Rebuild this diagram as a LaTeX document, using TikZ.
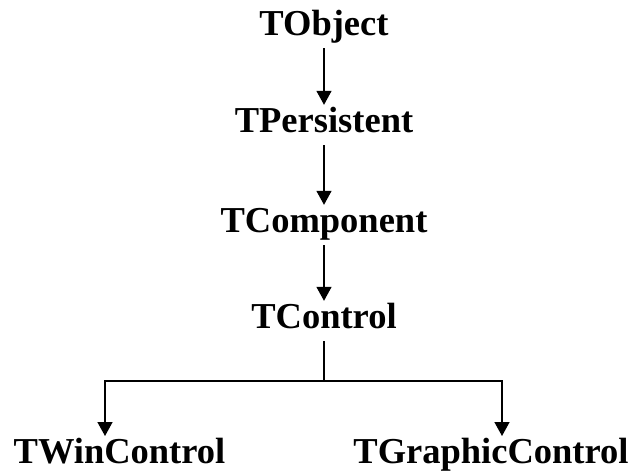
\documentclass[tikz,border=0pt]{standalone}
\usepackage{fontspec}
\setmainfont{Liberation Serif}
\usetikzlibrary{arrows.meta}
\begin{document}
\begin{tikzpicture}[x=1pt,y=-1pt,
  cls/.style={font=\bfseries\fontsize{36.5}{40}\selectfont, inner sep=0pt, text height=27pt, text depth=13pt, anchor=base},
  link/.style={line width=1.5pt, -{Triangle[width=15pt,length=14pt]}},
  plain/.style={line width=1.5pt}]
\useasboundingbox (0,0) rectangle (635,472);
\node[cls] (obj) at (324,35) {TObject};
\node[cls] (per) at (324,132) {TPersistent};
\node[cls] (cmp) at (324,232) {TComponent};
\node[cls] (ctl) at (324,328) {TControl};
\node[cls] (win) at (119.5,463) {TWinControl};
\node[cls] (gfx) at (491,463) {TGraphicControl};
\coordinate (bar) at (324,381);
\coordinate (wtop) at (105,436);
\coordinate (gtop) at (502,436);
\draw[link] (obj.south) -- (per.north);
\draw[link] (per.south) -- (cmp.north);
\draw[link] (cmp.south) -- (ctl.north);
\draw[plain] (ctl.south) -- (bar);
\draw[link] (bar) -| (wtop);
\draw[link] (bar) -| (gtop);
\end{tikzpicture}
\end{document}
